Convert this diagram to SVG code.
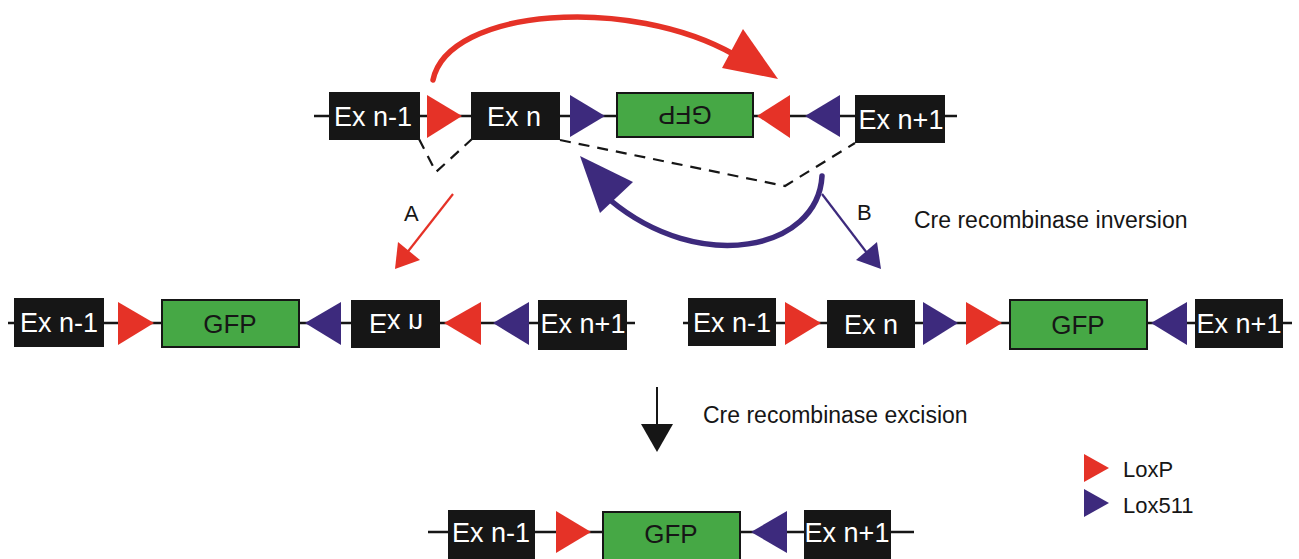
<svg xmlns="http://www.w3.org/2000/svg" width="1299" height="559" viewBox="0 0 1299 559">
<style>
.bb{fill:#161616}
.gb{fill:#46a845;stroke:#161616;stroke-width:2}
.wt{fill:#ffffff;font-family:"Liberation Sans",Arial,sans-serif;font-size:27px;text-anchor:middle}
.gt{fill:#161616;font-family:"Liberation Sans",Arial,sans-serif;font-size:26px;text-anchor:middle}
.lab{fill:#161616;font-family:"Liberation Sans",Arial,sans-serif;font-size:22px}
.cap{fill:#161616;font-family:"Liberation Sans",Arial,sans-serif;font-size:23px}
.ln{stroke:#161616;stroke-width:2.5;fill:none}
.red{fill:#e53227}
.blue{fill:#3d2a7d}
.dash{stroke:#161616;stroke-width:2.2;fill:none;stroke-dasharray:11 8}
</style>
<rect width="1299" height="559" fill="#ffffff"/>
<g id="connectors">
<path d="M433,80 C448,8 630,-5 735,55" fill="none" stroke="#e53227" stroke-width="5.5" stroke-linecap="round"/>
<polygon class="red" points="743,29 722,68 778,79"/>
<path class="dash" d="M419,139 L436,172 L472,139"/>
<path class="dash" d="M560,140 L785,186 L855,143"/>
<line x1="453" y1="194" x2="406" y2="254" stroke="#e53227" stroke-width="2.2"/>
<polygon class="red" points="395,269 398,242 420,260"/>
<line x1="822" y1="194" x2="867" y2="253" stroke="#3d2a7d" stroke-width="2.2"/>
<polygon class="blue" points="881,269 856,260 877,242"/>
<path d="M822,176 C818,250 700,275 610,200" fill="none" stroke="#3d2a7d" stroke-width="5.5" stroke-linecap="round"/>
<polygon class="blue" points="580,156 633,182 600,213"/>
<line x1="657" y1="387" x2="657" y2="426" stroke="#161616" stroke-width="2"/>
<polygon fill="#161616" points="641,424 673,424 657,452"/>
</g>
<text class="lab" x="404" y="221">A</text>
<text class="lab" x="857" y="220">B</text>
<text class="cap" x="914" y="228">Cre recombinase inversion</text>
<text class="cap" x="703" y="423">Cre recombinase excision</text>

<g id="row-top">
<line class="ln" x1="314" y1="116" x2="957" y2="116"/>
<g id="t-exn-1"><rect class="bb" x="329" y="92" width="91" height="48"/><text class="wt" x="373" y="126">Ex n-1</text></g>
<g id="t-loxp1"><polygon class="red" points="427,95 427,138 462,116"/></g>
<g id="t-exn"><rect class="bb" x="471" y="92" width="89" height="48"/><text class="wt" x="514" y="126">Ex n</text></g>
<g id="t-lox5111"><polygon class="blue" points="570,95 570,137 605,116"/></g>
<g id="t-gfp"><rect class="gb" x="617" y="93" width="136" height="44"/><text class="gt" transform="translate(685,115) rotate(180)" x="0" y="9">GFP</text></g>
<g id="t-loxp2"><polygon class="red" points="790,95 790,138 757,116"/></g>
<g id="t-lox5112"><polygon class="blue" points="840,95 840,137 805,116"/></g>
<g id="t-exn1"><rect class="bb" x="855" y="95" width="90" height="48"/><text class="wt" x="901" y="129">Ex n+1</text></g>
</g>

<g id="row-a">
<line class="ln" x1="8" y1="323" x2="635" y2="323"/>
<g id="a-exn-1"><rect class="bb" x="14" y="298" width="90" height="49"/><text class="wt" x="59" y="332">Ex n-1</text></g>
<g id="a-loxp1"><polygon class="red" points="118,302 118,345 154,323"/></g>
<g id="a-gfp"><rect class="gb" x="162" y="300" width="137" height="47"/><text class="gt" x="230" y="333">GFP</text></g>
<g id="a-lox5111"><polygon class="blue" points="341,302 341,345 305,323"/></g>
<g id="a-exn"><rect class="bb" x="351" y="300" width="89" height="48"/><text class="wt" transform="translate(396,324) scale(1,-1)" x="0" y="10">Ex n</text></g>
<g id="a-loxp2"><polygon class="red" points="481,302 481,345 444,323"/></g>
<g id="a-lox5112"><polygon class="blue" points="529,302 529,345 493,323"/></g>
<g id="a-exn1"><rect class="bb" x="538" y="300" width="89" height="50"/><text class="wt" x="583" y="333">Ex n+1</text></g>
</g>

<g id="row-b">
<line class="ln" x1="683" y1="323" x2="1292" y2="323"/>
<g id="b-exn-1"><rect class="bb" x="688" y="298" width="88" height="48"/><text class="wt" x="732" y="332">Ex n-1</text></g>
<g id="b-loxp1"><polygon class="red" points="785,302 785,345 821,323"/></g>
<g id="b-exn"><rect class="bb" x="827" y="300" width="88" height="48"/><text class="wt" x="871" y="334">Ex n</text></g>
<g id="b-lox5111"><polygon class="blue" points="923,302 923,345 958,323"/></g>
<g id="b-loxp2"><polygon class="red" points="966,302 966,345 1002,323"/></g>
<g id="b-gfp"><rect class="gb" x="1010" y="300" width="137" height="49"/><text class="gt" x="1078" y="334">GFP</text></g>
<g id="b-lox5112"><polygon class="blue" points="1187,302 1187,345 1151,323"/></g>
<g id="b-exn1"><rect class="bb" x="1195" y="299" width="88" height="49"/><text class="wt" x="1239" y="333">Ex n+1</text></g>
</g>

<g id="row-final">
<line class="ln" x1="428" y1="532" x2="914" y2="532"/>
<g id="f-exn-1"><rect class="bb" x="448" y="510" width="87" height="52"/><text class="wt" x="491" y="542">Ex n-1</text></g>
<g id="f-loxp"><polygon class="red" points="556,511 556,553 591,532"/></g>
<g id="f-gfp"><rect class="gb" x="603" y="512" width="137" height="50"/><text class="gt" x="671" y="543">GFP</text></g>
<g id="f-lox511"><polygon class="blue" points="787,511 787,553 751,532"/></g>
<g id="f-exn1"><rect class="bb" x="804" y="510" width="87" height="52"/><text class="wt" x="847" y="542">Ex n+1</text></g>
</g>

<g id="legend">
<polygon class="red" points="1084,454 1084,482 1109,468"/>
<text class="lab" x="1123" y="477">LoxP</text>
<polygon class="blue" points="1084,489 1084,517 1109,503"/>
<text class="lab" x="1123" y="513">Lox511</text>
</g>
</svg>
